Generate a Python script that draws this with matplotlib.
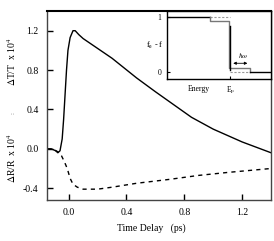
import matplotlib
matplotlib.use("Agg")
import matplotlib.pyplot as plt

plt.rcParams["font.family"] = ["Liberation Serif", "DejaVu Serif"]
plt.rcParams["mathtext.fontset"] = "stix"

# transmission trace (dT/T x 1e4)
t_dt = [-0.15, -0.12, -0.09, -0.075, -0.06, -0.045, -0.035, -0.025, -0.015, -0.005,
        0.01, 0.03, 0.045, 0.07, 0.1, 0.2, 0.3, 0.47, 0.6, 0.85, 1.0, 1.2, 1.4]
dt = [0.0, 0.0, -0.02, -0.04, -0.02, 0.1, 0.3, 0.55, 0.8, 1.0,
      1.13, 1.2, 1.2, 1.16, 1.12, 1.02, 0.92, 0.72, 0.58, 0.32, 0.2, 0.07, -0.04]

# reflection trace (dR/R x 1e4)
t_dr = [-0.15, -0.1, -0.075, -0.05, -0.03, -0.01, 0.01, 0.03, 0.06, 0.1,
        0.2, 0.3, 0.47, 0.7, 0.9, 1.1, 1.4]
dr = [0.0, -0.01, -0.03, -0.07, -0.13, -0.2, -0.3, -0.36, -0.39, -0.41,
      -0.41, -0.39, -0.35, -0.31, -0.27, -0.24, -0.2]

xticks = [0.0, 0.4, 0.8, 1.2]
yticks = [-0.4, 0.0, 0.4, 0.8, 1.2]

# inset: distribution functions vs energy
e_f = 6.1
dist_hi = [0, 4.1]
dist_fermi_top = [4.1, 6.1]
dist_fermi_bot = [6.1, 8.0]
dist_lo = [8.0, 10]

fig = plt.figure(figsize=(2.74, 2.41), dpi=100)
ax = fig.add_axes([47 / 274, 41 / 241, 224 / 274, 189 / 241])

ax.plot(t_dr, dr, color="black", lw=1.0, ls=(0, (3, 3)))
ax.plot(t_dt, dt, color="black", lw=1.0)

ax.set_xlim(-0.15, 1.4)
ax.set_ylim(-0.52, 1.40)
ax.set_xticks(xticks)
ax.set_xticklabels(["0.0", "0.4", "0.8", "1.2"])
ax.set_yticks(yticks)
ax.set_yticklabels(["-0.4", "0.0", "0.4", "0.8", "1.2"])
ax.tick_params(direction="in", length=4, width=1, labelsize=7, pad=6)
for s in ax.spines.values():
    s.set_linewidth(1.0)
    s.set_color("#444444")
ax.spines["top"].set_linewidth(1.5)
ax.spines["top"].set_color("black")

fig.text(151 / 274, 1 - 228 / 241, "Time Delay   (ps)", ha="center", va="center", fontsize=7)
fig.text(12 / 274, 1 - 62 / 241, r"$\Delta$T/T  x 10$^4$", rotation=90,
         ha="center", va="center", fontsize=7)
fig.text(12 / 274, 1 - 158 / 241, r"$\Delta$R/R  x 10$^4$", rotation=90,
         ha="center", va="center", fontsize=7)
fig.text(13 / 274, 1 - 113 / 241, ":", rotation=90, ha="center", va="center",
         fontsize=5, color="#555555")

# inset
ins = fig.add_axes([167 / 274, 1 - 79 / 241, 104 / 274, 68 / 241])
ins.plot(dist_hi, [1, 1], color="black", lw=1.0)
ins.plot(dist_fermi_top, [1, 1], color="#999999", lw=0.8, ls=(0, (2, 1.5)))
ins.plot(dist_fermi_bot, [0, 0], color="#999999", lw=0.8, ls=(0, (2, 1.5)))
ins.plot([4.1, 4.1, 6.0, 6.0, 8.0, 8.0], [1, 0.93, 0.93, 0.08, 0.08, 0],
         color="#777777", lw=1.0)
ins.plot([e_f, e_f], [0.84, 0.04], color="black", lw=1.0)
ins.plot(dist_lo, [0, 0], color="black", lw=1.0)
ins.annotate("", xy=(e_f, 0.16), xytext=(8.0, 0.16),
             arrowprops=dict(arrowstyle="<|-|>", lw=0.6, color="black",
                             mutation_scale=4))
ins.text(7.3, 0.3, r"$\hbar\omega$", ha="center", va="center", fontsize=5)

ins.set_xlim(0, 10)
ins.set_ylim(-0.125, 1.107)
ins.set_yticks([0, 1])
ins.set_yticklabels(["0", "1"])
ins.set_xticks([e_f])
ins.set_xticklabels([r"E$_\mathrm{F}$"])
ins.tick_params(direction="in", length=2, width=0.8, labelsize=5.5, pad=4)
for s in ins.spines.values():
    s.set_linewidth(1.0)
    s.set_color("black")
ins.set_ylabel(r"f$_\mathrm{e}$ - f", fontsize=6, labelpad=2, rotation=0, va="center")
fig.text(199 / 274, 1 - 89 / 241, "Energy", ha="center", va="center", fontsize=5.5)

fig.savefig("out.png", dpi=100)
